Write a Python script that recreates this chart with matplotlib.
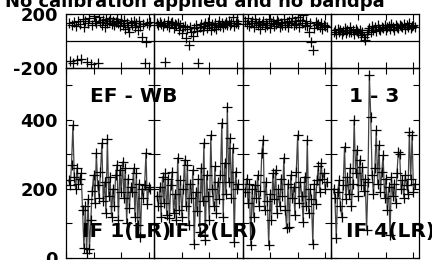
import numpy as np
import matplotlib.pyplot as plt

# amplitude per IF (60 channels each)
amp_if1 = [225, 210, 270, 385, 235, 200, 261, 215, 230, 246, 140, 30, 150, 15, 170, 25, 110, 195, 240, 160,
           304, 210, 175, 250, 333, 165, 220, 130, 345, 180, 235, 120, 200, 150, 240, 270, 110, 255, 190, 278,
           175, 260, 100, 230, 145, 205, 190, 260, 120, 245, 95, 215, 60, 200, 175, 210, 304, 155, 205, 200]
amp_if2 = [180, 150, 205, 120, 235, 160, 245, 125, 230, 115, 210, 250, 130, 185, 110, 290, 140, 225, 120, 200,
           284, 150, 270, 95, 215, 175, 255, 40, 190, 135, 230, 75, 260, 165, 333, 52, 240, 180, 110, 356,
           200, 150, 265, 130, 220, 170, 240, 391, 120, 275, 185, 438, 220, 347, 175, 319, 46, 250, 200, 215]
amp_if3 = [190, 230, 160, 215, 38, 200, 120, 210, 175, 240, 150, 195, 304, 342, 140, 220, 165, 38, 185, 110,
           245, 170, 255, 130, 200, 150, 230, 180, 290, 140, 87, 215, 90, 240, 175, 205, 125, 250, 356, 160,
           220, 180, 105, 235, 150, 342, 130, 200, 170, 40, 215, 155, 225, 265, 190, 275, 230, 245, 200, 220]
amp_if4 = [200, 175, 58, 190, 225, 150, 119, 210, 322, 170, 235, 185, 260, 150, 215, 400, 245, 313, 180, 284,
           210, 264, 195, 230, 81, 220, 530, 408, 240, 185, 260, 370, 215, 327, 190, 250, 298, 175, 230, 140,
           205, 67, 234, 180, 215, 160, 245, 307, 300, 200, 225, 175, 240, 210, 185, 364, 230, 356, 191, 215]

# phase per IF (degrees)
ph_if1 = [130, -150, 120, -165, 140, 110, -140, 150, 125, -135, 160, 105, 145, -155, 135, 170, -170, 115, 185, 150,
          130, -160, 175, 140, 120, 155, 100, 160, 135, 145, 170, 125, 150, 115, 140, 160, 130, 110, 145, 120,
          155, 90, 135, 100, 65, 140, 120, 150, 105, 130, 85, 145, 110, 30, 125, -165, -5, 135, 115, 140]
ph_if2 = [130, 115, 140, 125, 110, 135, -155, 120, 150, 105, 130, 140, 95, 125, 115, 135, 80, 120, 60, 100,
          110, 20, 90, -30, 105, 70, 40, 95, 115, 75, -163, 100, 125, 85, 110, 130, 95, 140, 115, 80,
          125, 105, 135, 90, 120, 145, 110, 130, 100, 125, 140, 115, 150, 120, 135, 175, 110, 130, 145, 125]
ph_if3 = [150, 125, 170, 110, 135, 145, 100, 160, 130, 115, 140, 90, 125, 150, 105, 135, 120, 160, 95, 130,
          145, 110, 125, 155, 140, 100, 130, 115, 165, 120, 140, 105, 150, 130, 170, 115, 145, 125, 180, 100,
          155, 135, 190, 120, 150, 110, 65, 130, -7, -67, 95, 140, 115, 125, 105, 130, 90, 120, 110, 100]
ph_if4 = [70, 85, 55, 90, 65, 80, 50, 75, 95, 60, 85, 70, 100, 65, 80, 55, 90, 75, 60, 85,
          45, 70, 30, 10, 55, 80, 95, 65, 110, 85, 100, 75, 115, 90, 80, 105, 95, 120, 85, 100,
          110, 90, 125, 100, 85, 115, 105, 95, 120, 110, 100, 125, 90, 115, 105, 130, 95, 110, 120, 100]

amps = [amp_if1, amp_if2, amp_if3, amp_if4]
phases = [ph_if1, ph_if2, ph_if3, ph_if4]
chan = 1 + 0.5 * np.arange(60)

W, H = 432, 260
fig = plt.figure(figsize=(W / 100, H / 100), dpi=100)
plt.rcParams['font.family'] = 'DejaVu Sans'

left, right = 66, 419
top, mid, bot = 14, 68, 258
pw = (right - left) / 4

for k in range(4):
    x0 = (left + k * pw) / W
    axp = fig.add_axes([x0, 1 - mid / H, pw / W, (mid - top) / H])
    axa = fig.add_axes([x0, 1 - bot / H, pw / W, (bot - mid) / H])
    axp.plot(chan, phases[k], '+', color='black', ms=6.5, mew=0.9)
    axp.axhline(0, color='black', lw=0.9)
    axa.plot(chan, amps[k], '-', color='#444444', lw=0.9)
    axa.plot(chan, amps[k], '+', color='black', ms=6.5, mew=0.9)
    axp.set_ylim(-200, 200)
    axa.set_ylim(0, 550)
    for ax in (axp, axa):
        ax.patch.set_visible(False)
        ax.set_xlim(0, 32)
        ax.set_xticks([0, 10, 20, 30])
        ax.set_xticklabels([])
        ax.tick_params(direction='in', length=4, width=0.8, top=True, right=True,
                       labelsize=13, pad=6)
        for s in ax.spines.values():
            s.set_linewidth(0.9)
    axp.set_yticks([-200, 200])
    axa.set_yticks([0, 100, 200, 300, 400, 500])
    if k == 0:
        axp.set_yticklabels(['-200', '200'], fontweight='bold')
        axa.set_yticklabels(['0', '', '200', '', '400', ''], fontweight='bold')
    else:
        axp.set_yticklabels([])
        axa.set_yticklabels([])

fig.text(5 / W, 1 - 7 / H, 'No calibration applied and no bandpa', fontsize=13,
         fontweight='bold', va='baseline')

labels = [('EF - WB', 90, 102), ('1 - 3', 349, 102),
          ('IF 1(LR)', 82, 237), ('IF 2(LR)', 168, 237), ('IF 4(LR)', 346, 237)]
for txt, px, py in labels:
    fig.text(px / W, 1 - py / H, txt, fontsize=14.5, fontweight='bold', va='baseline', zorder=10)

fig.savefig('out.png', dpi=100)
